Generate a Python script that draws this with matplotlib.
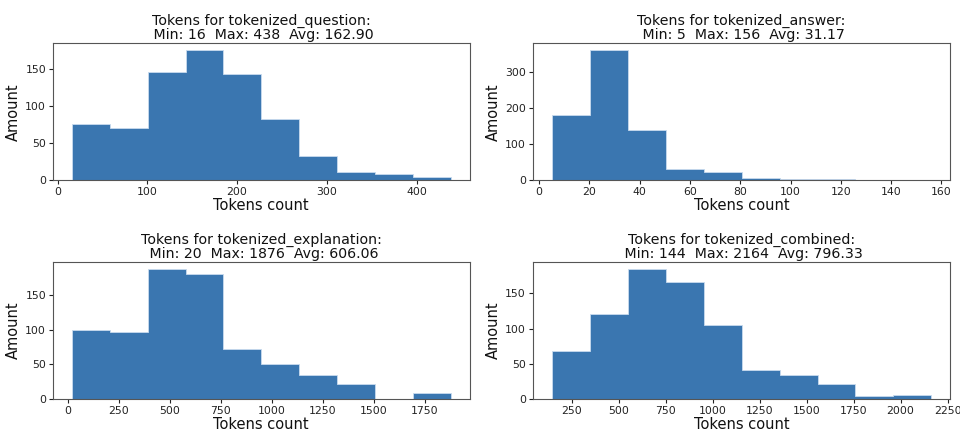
import numpy as np
import matplotlib
matplotlib.use("Agg")
import matplotlib.pyplot as plt

plt.rcParams["font.family"] = ["DejaVu Sans"]

names = ["tokenized_question", "tokenized_answer", "tokenized_explanation", "tokenized_combined"]
mins = [16, 5, 20, 144]
maxs = [438, 156, 1876, 2164]
avgs = [162.90, 31.17, 606.06, 796.33]

counts_question = [76, 71, 146, 176, 143, 83, 32, 11, 8, 4]
counts_answer = [181, 363, 139, 32, 22, 5, 3, 3, 1, 1]
counts_explanation = [100, 96, 188, 180, 72, 50, 35, 21, 0, 9]
counts_combined = [68, 120, 185, 166, 105, 41, 34, 22, 4, 6]
all_counts = [counts_question, counts_answer, counts_explanation, counts_combined]

bar_color = "#3a76b0"

fig = plt.figure(figsize=(9.6, 4.33), dpi=100)
positions = [
    [0.0552, 0.584, 0.434, 0.316],
    [0.555, 0.584, 0.435, 0.316],
    [0.0552, 0.0785, 0.434, 0.316],
    [0.555, 0.0785, 0.435, 0.316],
]

for pos, name, mn, mx, av, cnt in zip(positions, names, mins, maxs, avgs, all_counts):
    ax = fig.add_axes(pos)
    edges = np.linspace(mn, mx, len(cnt) + 1)
    ax.hist(edges[:-1], bins=edges, weights=cnt, histtype="stepfilled",
            facecolor=bar_color, edgecolor="#c9dbee", linewidth=0.6)
    ax.set_title(f"Tokens for {name}:\n Min: {mn}  Max: {mx}  Avg: {av:.2f}",
                 fontsize=10.2, color="#111111", pad=3, linespacing=1.0)
    ax.set_xlabel("Tokens count", fontsize=10.5, labelpad=0.5, color="#111111")
    ax.set_ylabel("Amount", fontsize=10.5, labelpad=3, color="#111111")
    ax.tick_params(labelsize=7.8, length=3, pad=2, colors="#222222")
    for s in ax.spines.values():
        s.set_color("#555555")
        s.set_linewidth(0.8)

fig.savefig("out.png", dpi=100)
